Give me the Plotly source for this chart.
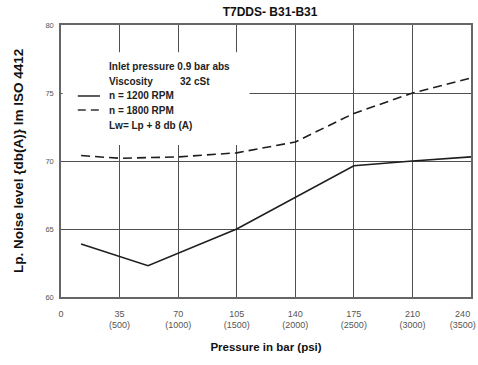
import plotly.graph_objects as go

# Data
pressure_1200 = [12, 52, 105, 140, 175, 210, 245]
noise_1200 = [63.9, 62.3, 65.0, 67.3, 69.65, 70.0, 70.3]
pressure_1800 = [12, 35, 70, 105, 140, 175, 210, 245]
noise_1800 = [70.4, 70.2, 70.3, 70.6, 71.4, 73.5, 75.0, 76.1]
x_tickvals = [0, 35, 70, 105, 140, 175, 210, 240]
x_ticktext = ["0", "35<br>(500)", "70<br>(1000)", "105<br>(1500)", "140<br>(2000)",
              "175<br>(2500)", "210<br>(3000)", "240<br>(3500)"]
x_gridvals = [35, 70, 105, 140, 175, 210]
y_tickvals = [60, 65, 70, 75, 80]

FONT = "Liberation Sans, Arial, sans-serif"
LINE = "#1e1e1e"
GRID = "#505050"

fig = go.Figure()
fig.add_trace(go.Scatter(x=pressure_1200, y=noise_1200, mode="lines",
                         line=dict(color=LINE, width=1.6), name="n = 1200 RPM"))
fig.add_trace(go.Scatter(x=pressure_1800, y=noise_1800, mode="lines",
                         line=dict(color=LINE, width=1.6, dash="9px,5px"), name="n = 1800 RPM"))

# white mask for the legend area (hides grid lines)
fig.add_shape(type="rect", xref="paper", yref="paper", x0=0.004, x1=0.46, y0=0.559, y1=0.90,
              fillcolor="white", line=dict(width=0), layer="above")

# legend sample lines
fig.add_shape(type="line", xref="paper", yref="paper", x0=0.041, x1=0.095, y0=0.739, y1=0.739,
              line=dict(color="#333", width=1.6), layer="above")
fig.add_shape(type="line", xref="paper", yref="paper", x0=0.041, x1=0.095, y0=0.6875, y1=0.6875,
              line=dict(color="#333", width=1.6, dash="8px,5px"), layer="above")

ann_font = dict(family=FONT, size=10, color="#222")
texts = [
    ("<b>Inlet pressure 0.9 bar abs</b>", 0.849),
    ("<b>Viscosity</b>", 0.794),
    ("<b>n = 1200 RPM</b>", 0.739),
    ("<b>n = 1800 RPM</b>", 0.6875),
    ("<b>Lw= Lp + 8 db (A)</b>", 0.632),
]
for t, yy in texts:
    fig.add_annotation(text=t, xref="paper", yref="paper", x=0.112, y=yy,
                       xanchor="left", yanchor="middle", showarrow=False, font=ann_font)
fig.add_annotation(text="<b>32 cSt</b>", xref="paper", yref="paper", x=0.285, y=0.794,
                   xanchor="left", yanchor="middle", showarrow=False, font=ann_font)

# y axis title
fig.add_annotation(text="<b>Lp. Noise level {db(A)} lm ISO 4412</b>", xref="paper", yref="paper",
                   x=-0.105, y=0.5, xanchor="center", yanchor="middle", textangle=-90,
                   showarrow=False, font=dict(family=FONT, size=13.5, color="#111"))

fig.update_layout(
    width=478, height=365,
    margin=dict(l=61, r=7, t=25, b=68, autoexpand=False),
    paper_bgcolor="white", plot_bgcolor="white",
    showlegend=False,
    title=dict(text="<b>T7DDS- B31-B31</b>", x=0.565, xanchor="center", y=0.967, yanchor="middle",
               font=dict(family=FONT, size=12, color="#111")),
    xaxis=dict(range=[0, 245], tickvals=x_tickvals, ticktext=x_ticktext,
               automargin=False, showgrid=False,
               minor=dict(tickvals=x_gridvals, showgrid=True, gridcolor=GRID, gridwidth=1.2, ticks=""),
               zeroline=False,
               showline=True, linecolor="#666", linewidth=1.5, mirror=True, ticks="",
               ticklabelstandoff=7, ticklabeloverflow="allow",
               tickfont=dict(family=FONT, size=9, color="#555"),
               title=dict(text="<b>Pressure in bar (psi)</b>", standoff=14,
                          font=dict(family=FONT, size=11.5, color="#111"))),
    yaxis=dict(range=[60, 80], tickvals=y_tickvals, automargin=False,
               showgrid=True, gridcolor=GRID, gridwidth=1.2, zeroline=False,
               showline=True, linecolor="#666", linewidth=1.5, mirror=True, ticks="",
               ticklabelstandoff=4,
               tickfont=dict(family=FONT, size=7.5, color="#555")),
)

fig.write_html("out.html")
